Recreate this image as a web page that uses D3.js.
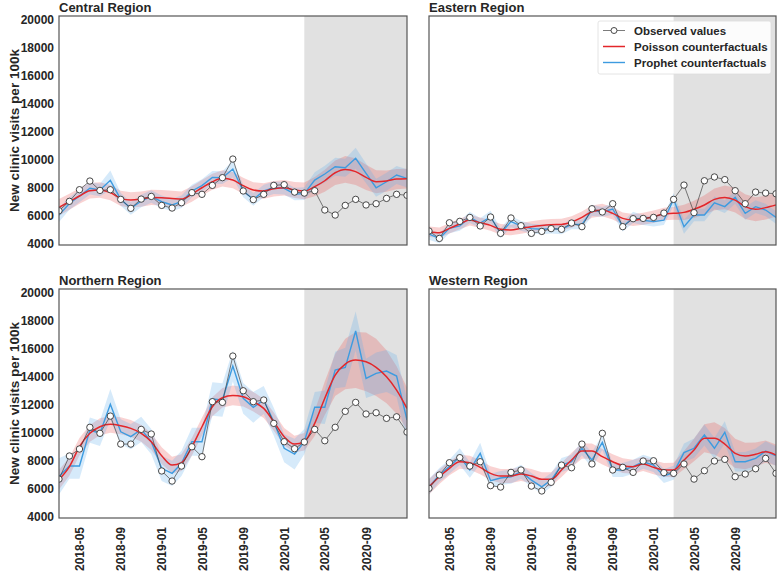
<!DOCTYPE html>
<html>
<head>
<meta charset="utf-8">
<script src="https://cdn.jsdelivr.net/npm/d3@7"></script>
<style>
  body { margin: 0; background: #fff; }
  text { font-family: "Liberation Sans", Arial, sans-serif; font-weight: bold; fill: #262626; }
</style>
</head>
<body>
<svg id="chart" width="780" height="574"></svg>
<script>
'use strict';

// monthly dates on the x axis
const months = ["2018-03","2018-04","2018-05","2018-06","2018-07","2018-08","2018-09","2018-10","2018-11","2018-12",
  "2019-01","2019-02","2019-03","2019-04","2019-05","2019-06","2019-07","2019-08","2019-09","2019-10","2019-11","2019-12",
  "2020-01","2020-02","2020-03","2020-04","2020-05","2020-06","2020-07","2020-08","2020-09","2020-10","2020-11","2020-12","2021-01"];
const xTickLabels = ["2018-05","2018-09","2019-01","2019-05","2019-09","2020-01","2020-05","2020-09"];
const yTicks = [4000, 6000, 8000, 10000, 12000, 14000, 16000, 18000, 20000];
const shadeStart = "2020-03";

// Central
const centralObserved = [6380,7050,7880,8500,7830,7880,7190,6550,7210,7400,6760,6570,6950,7670,7550,8190,8740,10070,7790,7170,7550,8190,8240,7710,7640,7810,6430,6070,6760,7190,6790,6880,7260,7550,7480];
const centralPoisson = [6620,7020,7430,7810,7860,7670,7260,7140,7210,7330,7310,7260,7210,7570,8020,8450,8690,8570,8170,7860,7790,7950,8020,7860,7790,8100,8520,9090,9330,9170,8760,8450,8500,8640,8670];
const centralPoissonHalf = [600,580,560,550,550,550,550,550,550,550,550,550,550,550,560,570,580,580,570,560,550,550,560,570,600,680,780,880,950,950,900,820,760,720,700];
const centralProphet = [6070,6900,7430,7980,7860,8550,7190,6550,7070,7400,7020,6790,7020,7790,8170,8760,8740,9360,7790,7190,7790,8020,7980,7570,7600,8570,9000,9520,9450,10120,9050,8020,8450,8930,8690];
const centralProphetHalf = [500,450,450,450,450,700,450,450,450,450,450,450,450,450,450,450,450,600,450,450,450,450,450,450,450,550,600,650,650,750,700,650,650,650,650];

// Eastern
const easternObserved = [4930,4400,5520,5620,5900,5290,5930,4760,5860,5310,4760,4900,5100,5050,5500,5240,6520,6290,6880,5240,5810,5830,5900,6210,7190,8210,6240,8520,8790,8600,7810,6880,7710,7640,7590];
const easternPoisson = [4880,4810,5120,5430,5710,5520,5330,5050,5000,5120,5240,5330,5380,5400,5570,5900,6310,6430,6190,5830,5710,5810,5950,6140,6190,6260,6480,6790,7190,7330,7140,6670,6480,6600,6790];
const easternPoissonHalf = [380,370,370,370,380,380,380,380,380,380,390,400,400,400,410,420,440,450,440,430,430,430,440,450,460,550,620,700,780,850,880,880,860,850,850];
const easternProphet = [4710,4400,5120,5300,5900,5500,5930,4760,5600,5300,5100,5050,5100,5050,5400,5400,6400,6290,6500,5240,5900,5700,5600,5700,7190,5240,6070,6070,6950,6670,7330,6190,6670,6430,5900];
const easternProphetHalf = [400,350,350,350,400,350,450,350,400,350,350,350,350,350,350,350,400,350,400,350,400,350,350,350,450,500,450,450,450,450,450,450,450,450,450];

// Northern
const northernObserved = [6710,8360,8860,10410,9980,11210,9210,9210,10260,9930,7290,6570,7640,9020,8310,12240,12190,15500,13020,12240,12360,10690,9380,8880,9360,10260,9450,10410,11550,12190,11360,11450,11050,11160,10070];
const northernPoisson = [6670,7600,9020,9980,10450,10620,10520,10330,9980,9380,8380,7710,7880,9020,10450,11880,12520,12690,12590,12240,11760,10810,9740,9210,9380,10690,12480,14140,14930,15210,15090,14690,14020,13070,11760];
const northernPoissonHalf = [700,650,620,600,600,600,600,600,600,600,600,600,600,620,650,680,700,700,700,700,680,650,620,600,620,900,1200,1500,1800,2000,2100,2050,1900,1700,1500];
const northernProphet = [6900,7640,7640,10210,9980,12050,10090,9740,10260,9380,7480,7120,7830,9380,9380,12430,12360,14790,12480,11840,12360,10810,8910,8500,9380,11840,11840,14500,14690,17290,13900,14260,14430,14070,10930];
const northernProphetHalf = [1300,900,900,900,900,1100,900,900,900,900,900,900,900,1000,1000,1200,1200,1100,1100,1100,1000,1000,1000,1100,900,1100,1200,1300,1400,1400,1400,1500,1500,1500,1500];

// Western
const westernObserved = [6050,7000,7880,8240,7640,7950,6240,6140,7190,7360,6210,5860,6480,7710,7520,9210,7790,9980,7360,7550,7190,8000,8020,7170,7120,7790,6710,7310,8000,8120,6880,7070,7450,8190,7120];
const westernPoisson = [6160,6880,7480,7950,7880,7550,7120,6930,6930,7070,6930,6690,6690,7360,8070,8710,8710,8310,7950,7670,7600,7790,7550,7360,7360,8070,8790,9620,9620,9210,8550,8360,8480,8670,8430];
const westernPoissonHalf = [550,520,500,500,500,500,500,500,500,500,500,500,500,500,520,540,550,550,540,520,500,500,500,500,520,650,800,1000,1150,1150,1050,950,850,800,750];
const westernProphet = [6160,7000,7600,8310,7360,8550,6590,6790,6880,7240,6640,6160,6640,7710,7950,8910,8070,9330,7360,7360,7600,7950,7710,6930,7170,8600,8910,9860,8910,10050,7950,7950,8190,8710,8360];
const westernProphetHalf = [550,500,500,600,550,750,500,500,500,500,500,500,500,500,500,500,550,550,500,500,500,500,500,500,500,650,700,750,750,800,700,700,700,700,700];

const legendLabels = ["Observed values", "Poisson counterfactuals", "Prophet counterfactuals"];

const colors = {
  observed: "#444",
  poisson: "#e3262a",
  poissonBand: "rgba(232,80,80,0.26)",
  prophet: "#3d9be0",
  prophetBand: "rgba(95,175,235,0.26)",
  shade: "#e1e1e1",
  frame: "#555"
};

const panels = [
  { title: "Central Region",  obs: centralObserved,  poi: centralPoisson,  poiH: centralPoissonHalf,  pro: centralProphet,  proH: centralProphetHalf,  x0: 59,  x1: 407, y0: 16,  y1: 245, left: true,  bottom: false },
  { title: "Eastern Region",  obs: easternObserved,  poi: easternPoisson,  poiH: easternPoissonHalf,  pro: easternProphet,  proH: easternProphetHalf,  x0: 429, x1: 776, y0: 16,  y1: 245, left: false, bottom: false, legend: true },
  { title: "Northern Region", obs: northernObserved, poi: northernPoisson, poiH: northernPoissonHalf, pro: northernProphet, proH: northernProphetHalf, x0: 59,  x1: 407, y0: 289, y1: 518, left: true,  bottom: true },
  { title: "Western Region",  obs: westernObserved,  poi: westernPoisson,  poiH: westernPoissonHalf,  pro: westernProphet,  proH: westernProphetHalf,  x0: 429, x1: 776, y0: 289, y1: 518, left: false, bottom: true }
];

const parse = d3.timeParse("%Y-%m");
const dates = months.map(parse);
const svg = d3.select("#chart");

panels.forEach((p, pi) => {
  const x = d3.scaleTime().domain([dates[0], dates[dates.length - 1]]).range([p.x0, p.x1]);
  const y = d3.scaleLinear().domain([3930, 20290]).range([p.y1, p.y0]);
  const g = svg.append("g");

  const clipId = "clip" + pi;
  g.append("clipPath").attr("id", clipId)
    .append("rect").attr("x", p.x0).attr("y", p.y0).attr("width", p.x1 - p.x0).attr("height", p.y1 - p.y0);
  const plot = g.append("g").attr("clip-path", `url(#${clipId})`);

  // shaded pandemic period
  plot.append("rect")
    .attr("x", x(parse(shadeStart))).attr("y", p.y0)
    .attr("width", p.x1 - x(parse(shadeStart))).attr("height", p.y1 - p.y0)
    .attr("fill", colors.shade);

  const band = (vals, half) => d3.area()
    .x((d, i) => x(dates[i]))
    .y0((d, i) => y(vals[i] - half[i]))
    .y1((d, i) => y(vals[i] + half[i]))(vals);
  const line = d3.line().x((d, i) => x(dates[i])).y(d => y(d));

  plot.append("path").attr("d", band(p.poi, p.poiH)).attr("fill", colors.poissonBand);
  plot.append("path").attr("d", band(p.pro, p.proH)).attr("fill", colors.prophetBand);
  plot.append("path").attr("d", line(p.pro)).attr("fill", "none").attr("stroke", colors.prophet).attr("stroke-width", 1.4);
  plot.append("path").attr("d", line.curve(d3.curveMonotoneX)(p.poi)).attr("fill", "none").attr("stroke", colors.poisson).attr("stroke-width", 1.5);
  line.curve(d3.curveLinear);
  plot.append("path").attr("d", line(p.obs)).attr("fill", "none").attr("stroke", colors.observed).attr("stroke-width", 0.7);
  plot.selectAll("circle").data(p.obs).join("circle")
    .attr("cx", (d, i) => x(dates[i])).attr("cy", d => y(d)).attr("r", 3.2)
    .attr("fill", "#fff").attr("stroke", "#333").attr("stroke-width", 0.9);

  // frame
  g.append("rect").attr("x", p.x0).attr("y", p.y0).attr("width", p.x1 - p.x0).attr("height", p.y1 - p.y0)
    .attr("fill", "none").attr("stroke", colors.frame).attr("stroke-width", 1.2);

  g.append("text").attr("x", p.x0).attr("y", p.y0 - 4).attr("font-size", 13).text(p.title);

  if (p.left) {
    const ya = g.append("g").attr("transform", `translate(${p.x0},0)`)
      .call(d3.axisLeft(y).tickValues(yTicks).tickSize(0).tickPadding(5).tickFormat(d3.format("d")));
    ya.select(".domain").remove();
    ya.selectAll("text").attr("font-size", 12).attr("font-family", null).style("fill", "#262626");
    g.append("text")
      .attr("transform", `translate(19,${(p.y0 + p.y1) / 2}) rotate(-90)`)
      .attr("text-anchor", "middle").attr("font-size", 13.5)
      .text("New clinic visits per 100k");
  }

  if (p.bottom) {
    const xa = g.append("g").attr("transform", `translate(0,${p.y1})`)
      .call(d3.axisBottom(x).tickValues(xTickLabels.map(parse)).tickSize(0).tickFormat(d3.timeFormat("%Y-%m")));
    xa.select(".domain").remove();
    xa.selectAll("text")
      .attr("transform", "rotate(-90)")
      .attr("x", -9).attr("y", 0).attr("dy", "0.35em")
      .attr("text-anchor", "end").attr("font-size", 12).attr("font-family", null).style("fill", "#262626");
  }

  if (p.legend) {
    const lg = g.append("g");
    lg.append("rect").attr("x", 598).attr("y", 21).attr("width", 173).attr("height", 53).attr("rx", 2)
      .attr("fill", "rgba(255,255,255,0.9)").attr("stroke", "#ddd").attr("stroke-width", 0.8);
    const rows = [
      { label: legendLabels[0], color: colors.observed, w: 0.7, marker: true },
      { label: legendLabels[1], color: colors.poisson, w: 1.5 },
      { label: legendLabels[2], color: colors.prophet, w: 1.4 }
    ];
    rows.forEach((r, i) => {
      const cy = 30.5 + i * 16;
      lg.append("line").attr("x1", 603).attr("x2", 625).attr("y1", cy).attr("y2", cy)
        .attr("stroke", r.color).attr("stroke-width", r.w);
      if (r.marker) {
        lg.append("circle").attr("cx", 614).attr("cy", cy).attr("r", 3)
          .attr("fill", "#fff").attr("stroke", "#333").attr("stroke-width", 0.9);
      }
      lg.append("text").attr("x", 634).attr("y", cy).attr("dy", "0.35em").attr("font-size", 11.5).text(r.label);
    });
  }
});
</script>
</body>
</html>
